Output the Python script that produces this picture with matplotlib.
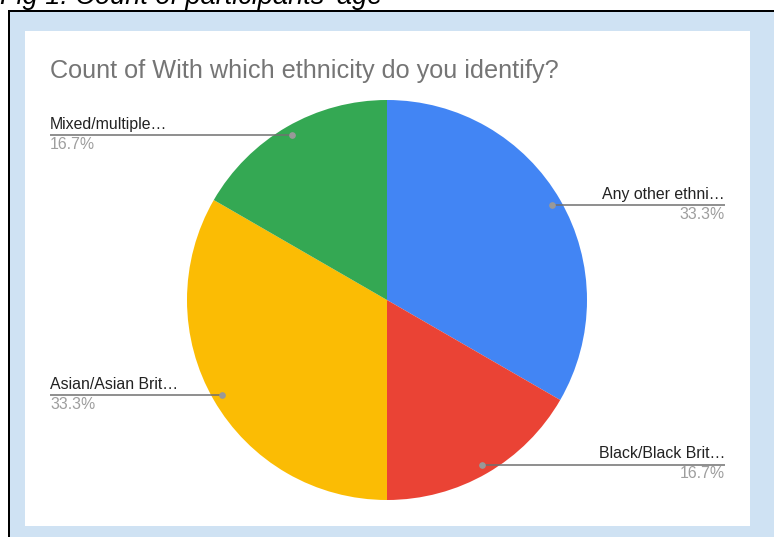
import matplotlib
matplotlib.use("Agg")
import matplotlib.pyplot as plt
from matplotlib.patches import Rectangle
import numpy as np

categories = ["Any other ethni…", "Black/Black Brit…", "Asian/Asian Brit…", "Mixed/multiple…"]
counts = [2, 1, 2, 1]
colors = ["#4285F4", "#EA4335", "#FBBC04", "#34A853"]
title = "Count of With which ethnicity do you identify?"
caption = "Fig 1: Count of participants' age"

W, H = 774, 537
fig = plt.figure(figsize=(W / 100, H / 100), dpi=100)
fig.patch.set_facecolor("white")

def fx(px):
    return px / W

def fy(py):
    return 1 - py / H

# outer black frame + light blue panel
fig.patches.append(Rectangle((fx(8), 0), 1 - fx(8), fy(10), transform=fig.transFigure,
                             facecolor="black", edgecolor="none", zorder=-3))
fig.patches.append(Rectangle((fx(10), 0), 1 - fx(10), fy(12), transform=fig.transFigure,
                             facecolor="#cfe2f3", edgecolor="none", zorder=-2))
# white chart area
fig.patches.append(Rectangle((fx(25), fy(526)), fx(750) - fx(25), fy(31) - fy(526),
                             transform=fig.transFigure, facecolor="white", edgecolor="none", zorder=-1))

font = "Liberation Sans"
fig.text(fx(0), fy(4), caption, fontsize=19.5, style="italic", family=font,
         color="black", va="baseline", ha="left")
fig.text(fx(50), fy(78), title, fontsize=18.2, family=font, color="#757575",
         va="baseline", ha="left")

cx, cy, R = 387, 300, 200
ax = fig.add_axes([fx(cx - R), fy(cy + R), (2 * R) / W, (2 * R) / H])
ax.set_zorder(1)
ax.patch.set_visible(False)
wedges, _ = ax.pie(counts, colors=colors, startangle=90, counterclock=False,
                   radius=1, wedgeprops=dict(linewidth=0))
ax.set_xlim(-1, 1)
ax.set_ylim(-1, 1)
ax.axis("off")

total = sum(counts)
left_x = (50 - cx) / R
right_x = (725 - cx) / R
for w, lab, c in zip(wedges, categories, counts):
    ang = np.deg2rad((w.theta1 + w.theta2) / 2)
    px, py = 0.95 * np.cos(ang), 0.95 * np.sin(ang)
    pct = f"{100 * c / total:.1f}%"
    if px < 0:
        tx, ha = left_x, "left"
    else:
        tx, ha = right_x, "right"
    ax.plot([px, tx], [py, py], color="#707070", lw=1.1, clip_on=False, solid_capstyle="butt")
    ax.plot([px], [py], "o", color="#999999", ms=3.8, clip_on=False)
    ax.text(tx, py + 3.5 / R, lab, ha=ha, va="bottom", fontsize=11.4, family=font,
            color="#222222", clip_on=False)
    ax.text(tx, py - 1.5 / R, pct, ha=ha, va="top", fontsize=11.4, family=font,
            color="#9e9e9e", clip_on=False)

fig.savefig("out.png", dpi=100)
